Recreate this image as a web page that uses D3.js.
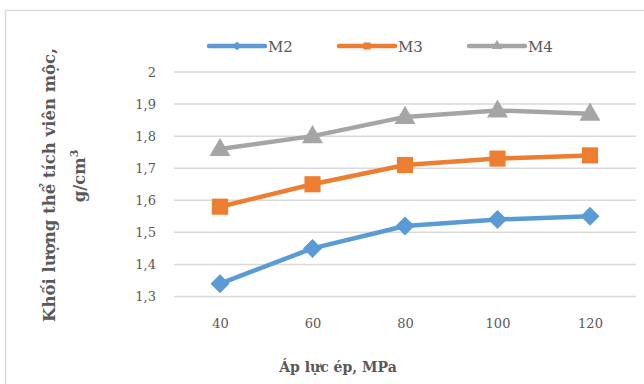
<!DOCTYPE html>
<html>
<head>
<meta charset="utf-8">
<script src="https://cdn.jsdelivr.net/npm/d3@7"></script>
<style>
  body { margin: 0; background: #fff; }
  text { font-family: "DejaVu Serif", "Liberation Serif", serif; }
</style>
</head>
<body>
<svg id="chart" width="644" height="384"></svg>
<script>
const width = 644;
const height = 384;

// data
const pressures = ["40", "60", "80", "100", "120"];
const m2 = [1.34, 1.45, 1.52, 1.54, 1.55];
const m3 = [1.58, 1.65, 1.71, 1.73, 1.74];
const m4 = [1.76, 1.80, 1.86, 1.88, 1.87];
const seriesNames = ["M2", "M3", "M4"];
const yTicks = [1.3, 1.4, 1.5, 1.6, 1.7, 1.8, 1.9, 2];

const series = [
  { name: "M2", values: m2, color: "#5b9bd5", symbol: d3.symbolDiamond2 },
  { name: "M3", values: m3, color: "#ed7d31", symbol: d3.symbolSquare },
  { name: "M4", values: m4, color: "#a5a5a5", symbol: d3.symbolTriangle }
];

const svg = d3.select("#chart");

// outer chart border (runs off the bottom/right edge)
svg.append("rect")
  .attr("x", 5.5).attr("y", 10.5)
  .attr("width", 660).attr("height", 400)
  .attr("fill", "#fff")
  .attr("stroke", "#d9d9d9")
  .attr("stroke-width", 1.5);

const xScale = d3.scalePoint().domain(pressures).range([220, 590]);
const yScale = d3.scaleLinear().domain([1.3, 2]).range([296.5, 72]);

// gridlines
svg.append("g")
  .selectAll("line")
  .data(yTicks).enter()
  .append("line")
  .attr("x1", 174).attr("x2", 636)
  .attr("y1", d => yScale(d)).attr("y2", d => yScale(d))
  .attr("stroke", "#d9d9d9")
  .attr("stroke-width", 1.5);

const fmt = d => String(d).replace(".", ",");

// y axis labels
const yAxis = svg.append("g")
  .attr("transform", "translate(156,0)")
  .call(d3.axisLeft(yScale).tickValues(yTicks).tickFormat(fmt).tickSize(0));
yAxis.select(".domain").remove();
yAxis.selectAll("text")
  .attr("x", 0).attr("text-anchor", "end")
  .attr("font-family", "DejaVu Serif").attr("font-size", 13).attr("fill", "#595959");

// x axis labels
const xAxis = svg.append("g")
  .attr("transform", "translate(0,316)")
  .call(d3.axisBottom(xScale).tickSize(0));
xAxis.select(".domain").remove();
xAxis.selectAll("text")
  .attr("font-family", "DejaVu Serif").attr("font-size", 13).attr("fill", "#595959");

// lines and markers
const line = d3.line()
  .x((d, i) => xScale(pressures[i]))
  .y(d => yScale(d));

series.forEach(s => {
  svg.append("path")
    .datum(s.values)
    .attr("d", line)
    .attr("fill", "none")
    .attr("stroke", s.color)
    .attr("stroke-width", 4.5)
    .attr("stroke-linejoin", "round");

  svg.append("g")
    .selectAll("path")
    .data(s.values).enter()
    .append("path")
    .attr("d", d3.symbol().type(s.symbol).size(s.name === "M4" ? 190 : s.name === "M2" ? 230 : 260))
    .attr("transform", (d, i) => `translate(${xScale(pressures[i])},${yScale(d) + (s.name === "M4" ? 1 : 0)})`)
    .attr("fill", s.color);
});

// legend
const legendX = [209, 339, 469];
const legend = svg.append("g");
series.forEach((s, i) => {
  const lg = legend.append("g").attr("transform", `translate(${legendX[i]},46)`);
  lg.append("line")
    .attr("x1", 0).attr("x2", 56)
    .attr("stroke", s.color).attr("stroke-width", 4.5)
    .attr("stroke-linecap", "round");
  lg.append("path")
    .attr("d", d3.symbol().type(s.symbol).size(50))
    .attr("transform", "translate(28,0)")
    .attr("fill", s.color);
  lg.append("text")
    .attr("x", 59).attr("y", 5.5)
    .attr("font-size", 15).attr("fill", "#595959")
    .text(seriesNames[i]);
});

// axis titles
svg.append("text")
  .attr("transform", "translate(55,185) rotate(-90)")
  .attr("text-anchor", "middle")
  .attr("font-size", 16.5).attr("font-weight", "bold").attr("fill", "#595959")
  .text("Khối lượng thể tích viên mộc,");

const unit = svg.append("text")
  .attr("transform", "translate(85,176) rotate(-90)")
  .attr("text-anchor", "middle")
  .attr("font-size", 16.5).attr("font-weight", "bold").attr("fill", "#595959");
unit.append("tspan").text("g/cm");
unit.append("tspan").attr("dy", -7).attr("font-size", 11).text("3");

svg.append("text")
  .attr("x", 338).attr("y", 372)
  .attr("text-anchor", "middle")
  .attr("font-size", 14).attr("font-weight", "bold").attr("fill", "#595959")
  .text("Áp lực ép, MPa");
</script>
</body>
</html>
